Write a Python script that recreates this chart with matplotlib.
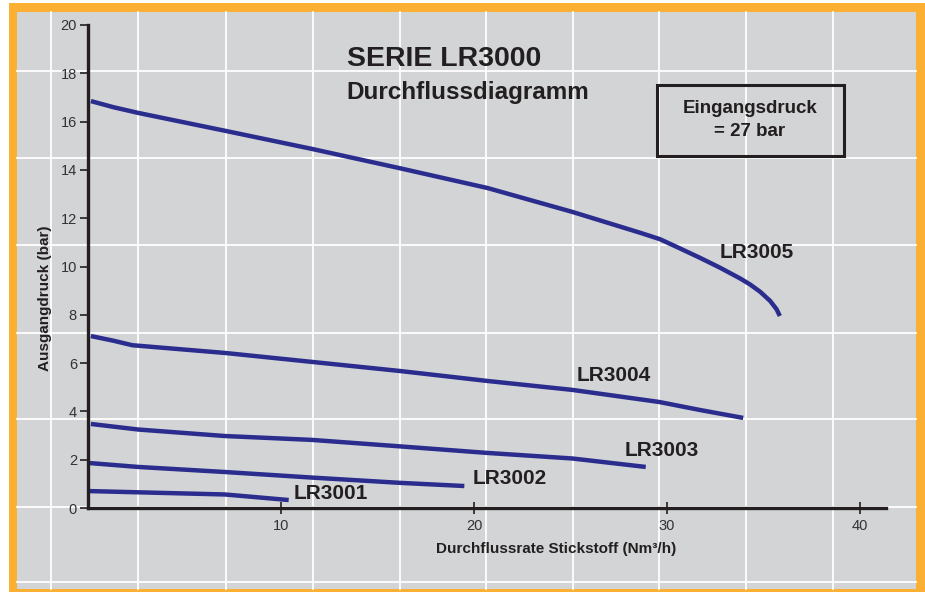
import matplotlib
matplotlib.use("Agg")
import matplotlib.pyplot as plt
from matplotlib import font_manager
from matplotlib.patches import Rectangle

# --- data ---
lr3005_x = [0.15, 1.3, 2.6, 7.1, 11.6, 16.1, 20.7, 25.1, 28.6, 29.64, 30.67, 31.71, 32.75,
            33.78, 34.3, 34.82, 35.34, 35.68, 35.85]
lr3005_y = [16.85, 16.6, 16.36, 15.62, 14.87, 14.08, 13.25, 12.26, 11.40, 11.13, 10.75, 10.36, 9.95,
            9.51, 9.26, 8.96, 8.58, 8.23, 7.95]

lr3004_x = [0.15, 1.3, 2.3, 7.1, 11.6, 16.2, 20.7, 25.1, 29.6, 31.7, 33.95]
lr3004_y = [7.12, 6.93, 6.74, 6.42, 6.05, 5.67, 5.26, 4.89, 4.39, 4.06, 3.73]

lr3003_x = [0.15, 2.6, 7.1, 11.6, 16.2, 20.7, 25.1, 28.9]
lr3003_y = [3.48, 3.25, 2.98, 2.82, 2.55, 2.28, 2.05, 1.70]

lr3002_x = [0.1, 2.6, 7.1, 11.6, 16.2, 19.5]
lr3002_y = [1.86, 1.70, 1.49, 1.26, 1.04, 0.91]

lr3001_x = [0.1, 7.1, 10.4]
lr3001_y = [0.70, 0.56, 0.33]

series = [
    ("LR3005", lr3005_x, lr3005_y, 32.75, 10.6),
    ("LR3004", lr3004_x, lr3004_y, 25.3, 5.5),
    ("LR3003", lr3003_x, lr3003_y, 27.8, 2.4),
    ("LR3002", lr3002_x, lr3002_y, 19.95, 1.24),
    ("LR3001", lr3001_x, lr3001_y, 10.65, 0.58),
]

yticks = [0, 2, 4, 6, 8, 10, 12, 14, 16, 18, 20]
xticks = [10, 20, 30, 40]

# decorative background grid (pixel positions)
bg_vlines = [51, 138, 226, 313, 400, 486, 573, 659, 746, 833]
bg_hlines = [71, 158, 245, 333, 419, 507, 582]

names = {f.name for f in font_manager.fontManager.ttflist}
narrow = "Liberation Sans Narrow" if "Liberation Sans Narrow" in names else "Liberation Sans"
plt.rcParams['font.family'] = ['Liberation Sans', 'DejaVu Sans']

W, H = 925, 592
fig = plt.figure(figsize=(W / 100, H / 100), dpi=100)
fig.patch.set_facecolor("white")

# background frame
bg = fig.add_axes([0, 0, 1, 1])
bg.set_xlim(0, W)
bg.set_ylim(H, 0)
bg.axis("off")
bg.add_patch(Rectangle((9, 3), W - 9, H - 3, facecolor="#fbb034", edgecolor="none"))
bg.add_patch(Rectangle((17, 12), 916 - 17, 589 - 12, facecolor="#d3d4d6", edgecolor="none"))
for x in bg_vlines:
    bg.plot([x, x], [12, 589], color="white", lw=1.3)
for y in bg_hlines:
    bg.plot([17, 916], [y, y], color="white", lw=1.3)
# pressure box
bg.add_patch(Rectangle((657, 85), 844 - 657, 156 - 85, facecolor="none",
                       edgecolor="#231f20", lw=2.2, zorder=5))

# data axes
left, right, top, bottom = 88, 886, 25, 508
ax = fig.add_axes([left / W, (H - bottom) / H, (right - left) / W, (bottom - top) / H])
ax.patch.set_alpha(0)
ax.set_xlim(0, 41.35)
ax.set_ylim(0, 20)

for name, xs, ys, lx, ly in series:
    ax.plot(xs, ys, color="#2b2d8e", lw=3.2, solid_capstyle="butt",
            solid_joinstyle="round", clip_on=False)
    ax.text(lx, ly, name, fontsize=15, fontweight="bold", color="#231f20",
            ha="left", va="center", clip_on=False)

for s in ["top", "right"]:
    ax.spines[s].set_visible(False)
for s in ["left", "bottom"]:
    ax.spines[s].set_linewidth(2.4)
    ax.spines[s].set_color("#231f20")

ax.set_yticks(yticks)
ax.set_xticks(xticks)
ax.tick_params(axis="y", direction="out", length=6, width=1.2, color="#231f20",
               labelsize=10.5, labelcolor="#333333", pad=2)
ax.tick_params(axis="x", direction="inout", length=8, width=1.2, color="#231f20",
               labelsize=10.5, labelcolor="#333333", pad=4)
for lab in ax.get_xticklabels() + ax.get_yticklabels():
    lab.set_family(narrow)

ax.set_xlabel("Durchflussrate Stickstoff (Nm³/h)", fontsize=11, fontweight="bold",
              color="#231f20")
ax.xaxis.set_label_coords(0.586, -0.07)
ax.set_ylabel("Ausgangdruck (bar)", fontsize=11, fontweight="bold", color="#231f20")
ax.yaxis.set_label_coords(-0.045, 0.435)

ax.text(13.4, 18.6, "SERIE LR3000", fontsize=20.5, fontweight="bold", family=narrow,
        color="#231f20", ha="left", va="center")
ax.text(13.4, 17.2, "Durchflussdiagramm", fontsize=17.5, fontweight="bold",
        color="#231f20", ha="left", va="center")
ax.text(34.3, 16.07, "Eingangsdruck\n= 27 bar", fontsize=13.5, fontweight="bold",
        color="#231f20", ha="center", va="center", linespacing=1.5)

fig.savefig("out.png", dpi=100)
